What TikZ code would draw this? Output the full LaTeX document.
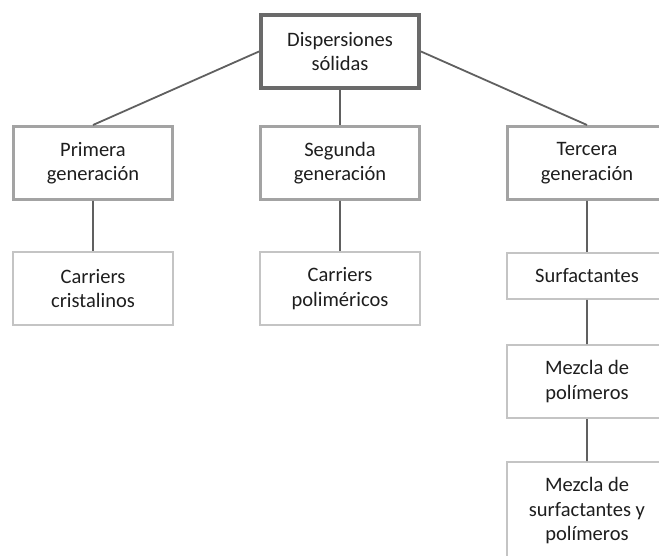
\documentclass[tikz,border=0pt]{standalone}
\usepackage{fontspec}
\setmainfont{Carlito}
\usetikzlibrary{positioning}
\definecolor{raiz}{HTML}{6A6A6A}
\definecolor{nivel}{HTML}{A3A3A3}
\definecolor{hoja}{HTML}{C4C4C4}
\definecolor{linea}{HTML}{606060}
\definecolor{texto}{HTML}{1E1E1E}

\begin{document}
\begin{tikzpicture}[x=1pt,y=1pt,thick,node distance=35pt,
  caja/.style={rectangle,fill=white,align=center,
    text=texto,font=\fontsize{20.5}{24.5}\selectfont,inner sep=0pt},
  raizbox/.style={caja,draw=raiz,line width=3.6pt,minimum width=158.4pt,minimum height=73.4pt},
  nivelbox/.style={caja,draw=nivel,line width=3pt,minimum width=159pt,minimum height=73pt},
  hojabox/.style={caja,draw=hoja,line width=2.4pt,minimum width=159.6pt,minimum height=72.6pt},
  enlace/.style={draw=linea,line width=1.8pt}]
				\useasboundingbox (-340,51.5) rectangle (319,-504.5);
				\clip (-340,51.5) rectangle (319,-504.5);
				\node[raizbox] (DS) at (0,0) {Dispersiones\\sólidas};
				\node[nivelbox] (G2) [below=of DS] {Segunda\\generación};
				\node[nivelbox] (G1) [left=85pt of G2] {Primera\\generación};
				\node[nivelbox] (G3) [right=85pt of G2] {Tercera\\generación};
				\node[hojabox] (CC) [below=50pt of G1] {Carriers\\cristalinos};
				\node[hojabox] (CP) [below=50pt of G2] {Carriers\\poliméricos};
				\node[hojabox,minimum height=45.6pt] (SU) [below=51pt of G3] {Surfactantes};
				\node[hojabox] (MP) [below=44pt of SU] {Mezcla de\\polímeros};
				\node[hojabox,minimum height=97.6pt] (MS) [below=42pt of MP] {Mezcla de\\surfactantes y\\polímeros};
				\path[enlace]
				(G1.north) -- (DS.west)
				(DS.south) -- (G2.north)
				(G3.north) -- (DS.east)
				(G1.south) -- (CC.north)
				(G2.south) -- (CP.north)
				(G3.south) -- (SU.north)
				(SU.south) -- (MP.north)
				(MP.south) -- (MS.north);
			\end{tikzpicture}
\end{document}
